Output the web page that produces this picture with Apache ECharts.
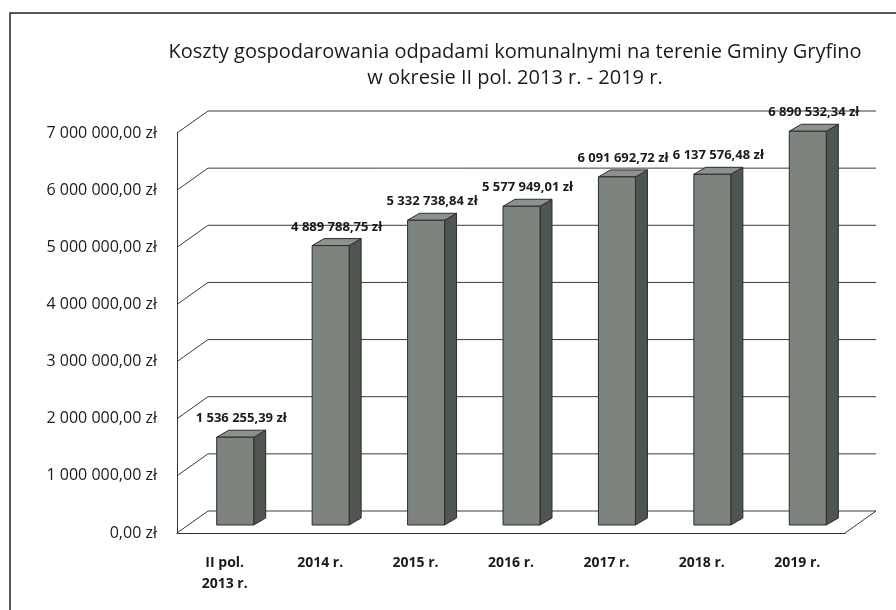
<!DOCTYPE html>
<html>
<head>
<meta charset="utf-8">
<script src="https://cdn.jsdelivr.net/npm/echarts@6/dist/echarts.min.js"></script>
<style>
  html, body { margin: 0; padding: 0; background: #fff; }
  #chart { width: 896px; height: 610px; }
</style>
</head>
<body>
<div id="chart"></div>
<script>
// dane z wykresu
const categories = ['II pol.\n2013 r.', '2014 r.', '2015 r.', '2016 r.', '2017 r.', '2018 r.', '2019 r.'];
const costs = [1536255.39, 4889788.75, 5332738.84, 5577949.01, 6091692.72, 6137576.48, 6890532.34];
const yTicks = [0, 1000000, 2000000, 3000000, 4000000, 5000000, 6000000, 7000000];

const FONT = '"Open Sans", "Noto Sans", sans-serif';
// przesuniecie "glebi" tylnej sciany
const WALL_DX = 31, WALL_DY = -22;
// glebia slupka
const BAR_DX = 12, BAR_DY = -7;

function zl(v) {
  const parts = v.toFixed(2).split('.');
  const int = parts[0].replace(/\B(?=(\d{3})+(?!\d))/g, ' ');
  return int + ',' + parts[1] + ' zł';
}

const chart = echarts.init(document.getElementById('chart'));

const option = {
  animation: false,
  backgroundColor: '#fff',
  title: {
    text: 'Koszty gospodarowania odpadami komunalnymi na terenie Gminy Gryfino\nw okresie II pol. 2013 r. - 2019 r.',
    left: 510,
    textAlign: 'center',
    top: 34,
    textStyle: { fontFamily: FONT, fontSize: 20, fontWeight: 'normal', color: '#1a1a1a', lineHeight: 26 }
  },
  grid: { left: 177, right: 51, top: 133, bottom: 77 },
  xAxis: {
    type: 'category',
    data: categories,
    axisLine: { show: true, lineStyle: { color: '#333', width: 1 } },
    axisTick: { show: false },
    axisLabel: {
      margin: 20,
      fontFamily: FONT, fontSize: 14, fontWeight: 'bold', color: '#1a1a1a', lineHeight: 21
    },
    splitLine: { show: false }
  },
  yAxis: {
    type: 'value',
    min: 0,
    max: 7000000,
    interval: 1000000,
    axisLine: { show: true, lineStyle: { color: '#333', width: 1 } },
    axisTick: { show: false },
    splitLine: { show: false },
    axisLabel: {
      margin: 20,
      fontFamily: FONT, fontSize: 16, color: '#1a1a1a',
      formatter: (v) => zl(v)
    }
  },
  series: [
    {
      // siatka na tylnej scianie + podloga
      type: 'custom',
      clip: false,
      silent: true,
      z: 1,
      data: yTicks.map((v) => [0, v]),
      renderItem: function (params, api) {
        const cs = params.coordSys;
        const y = api.coord([0, api.value(1)])[1];
        const gx = cs.x, gr = cs.x + cs.width;
        const children = [{
          type: 'polyline',
          shape: { points: [[gx, y], [gx + WALL_DX, y + WALL_DY], [gr + WALL_DX, y + WALL_DY]] },
          style: { stroke: '#3a3a3a', lineWidth: 1, fill: null }
        }];
        if (api.value(1) === 0) {
          children.push({
            type: 'polyline',
            shape: { points: [[gr, y], [gr + WALL_DX, y + WALL_DY]] },
            style: { stroke: '#3a3a3a', lineWidth: 1, fill: null }
          });
        }
        return { type: 'group', children: children };
      }
    },
    {
      // slupki 3D
      type: 'custom',
      clip: false,
      z: 3,
      data: costs.map((v, i) => [i, v]),
      renderItem: function (params, api) {
        const i = api.value(0);
        const v = api.value(1);
        const base = api.coord([i, 0]);
        const top = api.coord([i, v]);
        const x0 = base[0] - 8, x1 = base[0] + 29;
        const y0 = base[1] - 8, yt = top[1] - 8;
        const edge = '#2a2d2a';
        return {
          type: 'group',
          children: [
            {
              type: 'polygon',
              shape: { points: [[x1, y0], [x1 + BAR_DX, y0 + BAR_DY], [x1 + BAR_DX, yt + BAR_DY], [x1, yt]] },
              style: { fill: '#4f564f', stroke: edge, lineWidth: 1 }
            },
            {
              type: 'polygon',
              shape: { points: [[x0, yt], [x1, yt], [x1 + BAR_DX, yt + BAR_DY], [x0 + BAR_DX, yt + BAR_DY]] },
              style: { fill: '#8c928c', stroke: edge, lineWidth: 1 }
            },
            {
              type: 'rect',
              shape: { x: x0, y: yt, width: x1 - x0, height: y0 - yt },
              style: { fill: '#7d837d', stroke: edge, lineWidth: 1 }
            },
            {
              type: 'text',
              style: {
                text: zl(v),
                x: (x0 + x1 + BAR_DX) / 2,
                y: yt + BAR_DY - 5,
                align: 'center',
                verticalAlign: 'bottom',
                font: 'bold 13px ' + FONT,
                fill: '#1a1a1a'
              }
            }
          ]
        };
      }
    }
  ],
  graphic: [
    {
      type: 'polyline',
      silent: true,
      shape: { points: [[10, 610], [10, 13], [896, 13]] },
      style: { stroke: '#222', lineWidth: 1.5, fill: null }
    }
  ]
};

chart.setOption(option);
</script>
</body>
</html>
